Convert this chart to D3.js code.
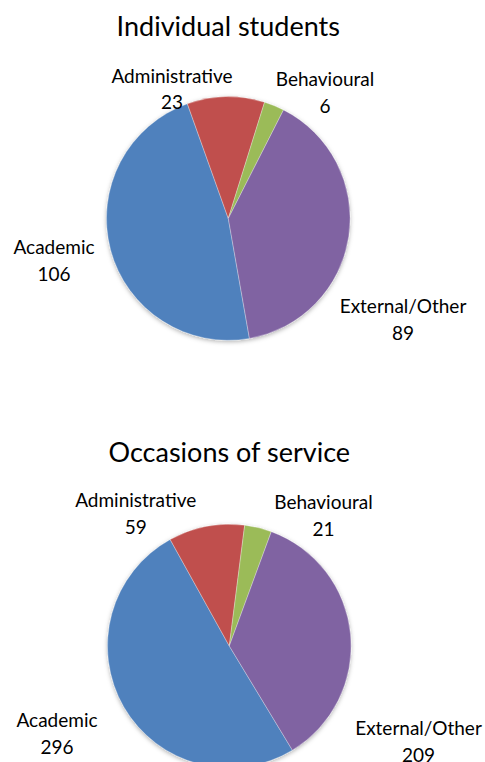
<!DOCTYPE html>
<html>
<head>
<meta charset="utf-8">
<script src="https://cdn.jsdelivr.net/npm/d3@7"></script>
<style>
  html, body { margin: 0; padding: 0; background: #fff; }
  svg { display: block; }
  text { font-family: Lato, "Open Sans", sans-serif; fill: #000; }
</style>
</head>
<body>
<svg id="chart" width="485" height="762"></svg>
<script>
// ---- data ----
const categories = ["Academic", "Administrative", "Behavioural", "External/Other"];
const studentsValues = [106, 23, 6, 89];
const occasionsValues = [296, 59, 21, 209];
const titles = ["Individual students", "Occasions of service"];
const colors = ["#4F81BD", "#C0504D", "#9BBB59", "#8064A2"];

// ---- layout (not data) ----
const charts = [
  { title: titles[0], values: studentsValues, cx: 228.3, cy: 218.5, r: 121.8, startDeg: 170,
    titleY: 36,
    labels: [[54, 254.3], [172, 82.7], [325, 86], [403, 313.3]] },
  { title: titles[1], values: occasionsValues, cx: 229.3, cy: 646, r: 121.8, startDeg: 148.8,
    titleY: 461.7,
    labels: [[57, 727.3], [135.7, 507.3], [323.5, 509], [418.5, 735]] }
];

const svg = d3.select("#chart");
const defs = svg.append("defs");
const f = defs.append("filter").attr("id", "shadow")
  .attr("x", "-20%").attr("y", "-20%").attr("width", "140%").attr("height", "140%");
f.append("feDropShadow").attr("dx", 0).attr("dy", 1.5).attr("stdDeviation", 2.2)
  .attr("flood-color", "#000").attr("flood-opacity", 0.3);

const color = d3.scaleOrdinal().domain(categories).range(colors);

charts.forEach(c => {
  const g = svg.append("g");
  g.append("text").attr("x", c.cx).attr("y", c.titleY)
    .attr("text-anchor", "middle").style("font-size", "27px").text(c.title);

  const start = c.startDeg * Math.PI / 180;
  const pie = d3.pie().sort(null).value(d => d.v).startAngle(start).endAngle(start + 2 * Math.PI);
  const arcs = pie(categories.map((k, i) => ({ k, v: c.values[i] })));
  const arc = d3.arc().innerRadius(0).outerRadius(c.r);

  const pg = g.append("g").attr("transform", `translate(${c.cx},${c.cy})`)
    .attr("filter", "url(#shadow)");
  pg.selectAll("path").data(arcs).join("path")
    .attr("d", arc)
    .attr("fill", d => color(d.data.k))
    .attr("stroke", "#fff").attr("stroke-width", 0.5).attr("stroke-opacity", 0.6);

  const lg = g.append("g");
  arcs.forEach((d, i) => {
    const [x, y] = c.labels[i];
    const t = lg.append("text").attr("x", x).attr("y", y)
      .attr("text-anchor", "middle").style("font-size", "19px");
    t.append("tspan").attr("x", x).attr("y", y).text(d.data.k);
    t.append("tspan").attr("x", x).attr("y", y + 26.5).text(d.data.v);
  });
});
</script>
</body>
</html>
